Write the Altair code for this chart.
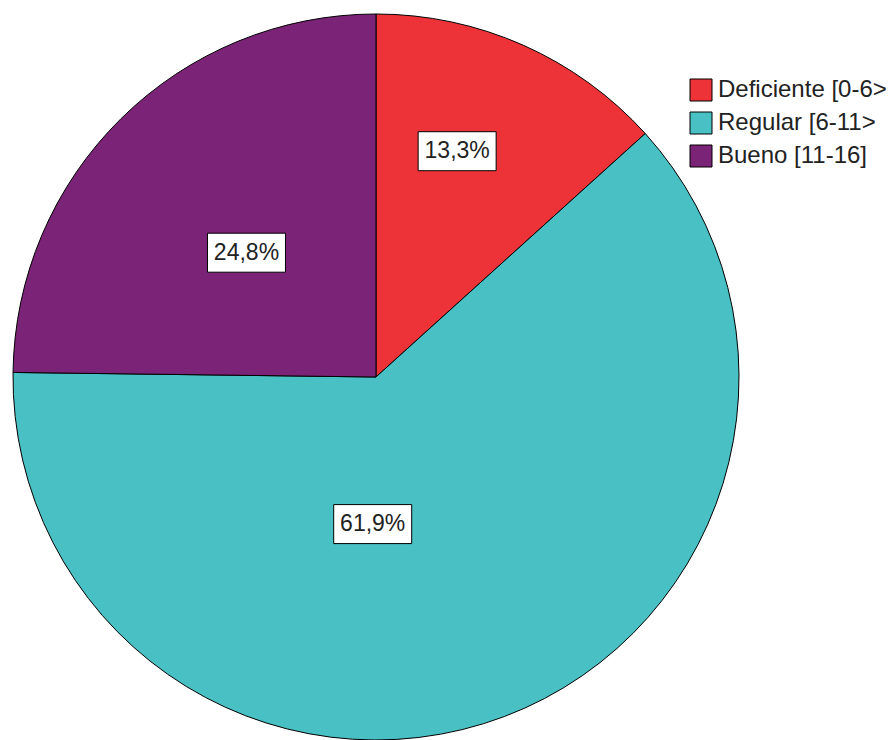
import altair as alt
import pandas as pd

categories = ["Deficiente [0-6>", "Regular [6-11>", "Bueno [11-16]"]
percentages = [13.3, 61.9, 24.8]
colors = ["#EE3338", "#48C0C4", "#7B2377"]

labels = [f"{p:.1f}".replace(".", ",") + "%" for p in percentages]
df = pd.DataFrame({
    "categoria": categories,
    "pct": percentages,
    "etiqueta": labels,
    "orden": list(range(len(categories))),
})

CX, CY, R = 376, 377, 363
LR = 200  # label radius
# per-slice label nudges (pixels) applied to the slice mid-angle position
nudges = {0: (0, -43), 1: (-74, -40), 2: (11, 18)}

base = alt.Chart(df)

pie = base.mark_arc(outerRadius=R, stroke="black", strokeWidth=1, opacity=1).encode(
    theta=alt.Theta("pct:Q", stack=True),
    order=alt.Order("orden:Q"),
    color=alt.Color(
        "categoria:N",
        scale=alt.Scale(domain=categories, range=colors),
        sort=categories,
        legend=alt.Legend(
            title=None,
            orient="none",
            legendX=689,
            legendY=78,
            symbolType="square",
            symbolSize=484,
            symbolStrokeColor="black",
            symbolStrokeWidth=1,
            symbolOpacity=1,
            labelFont="Liberation Sans",
            labelFontSize=24,
            labelColor="#222222",
            labelOffset=5,
            rowPadding=7,
            labelLimit=300,
        ),
    ),
    x=alt.value(CX),
    y=alt.value(CY),
)

pos = base.transform_joinaggregate(total="sum(pct)").transform_window(
    cum="sum(pct)", sort=[alt.SortField("orden")], frame=[None, 0]
).transform_calculate(
    mid="2*PI*(datum.cum - datum.pct/2)/datum.total",
    px0=f"{CX} + {LR}*sin(datum.mid)",
    py0=f"{CY} - {LR}*cos(datum.mid)",
)

box_path = "M-1,-0.5H1V0.5H-1Z"
layers = [pie]
for i, (ddx, ddy) in nudges.items():
    sub = pos.transform_filter(f"datum.orden == {i}").transform_calculate(
        px=f"datum.px0 + ({ddx})", py=f"datum.py0 + ({ddy})"
    )
    box = sub.mark_point(
        shape=box_path, size=78 * 78, filled=True, fill="white",
        stroke="black", strokeWidth=1, opacity=1,
    ).encode(
        x=alt.X("px:Q", scale=None, axis=None),
        y=alt.Y("py:Q", scale=None, axis=None),
    )
    txt = sub.mark_text(
        font="Liberation Sans", fontSize=23, color="#222222",
        align="center", baseline="middle",
    ).encode(
        x=alt.X("px:Q", scale=None, axis=None),
        y=alt.Y("py:Q", scale=None, axis=None),
        text="etiqueta:N",
    )
    layers += [box, txt]

chart = alt.layer(*layers).properties(
    width=894, height=740, padding=0, autosize=alt.AutoSizeParams(type="none"),
    background="white",
).configure_view(stroke=None)

chart.save("out.html", embed_options={"renderer": "svg", "actions": False})
